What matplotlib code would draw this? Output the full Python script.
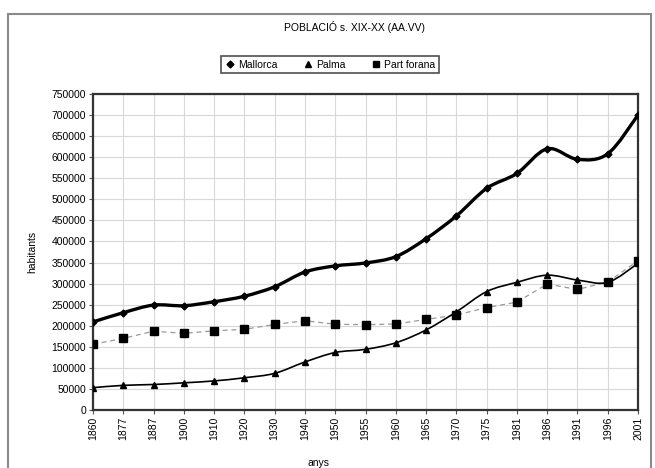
import numpy as np
import matplotlib.pyplot as plt
from matplotlib.path import Path
from matplotlib.patches import PathPatch, Rectangle

years = ['1860', '1877', '1887', '1900', '1910', '1920', '1930', '1940', '1950',
         '1955', '1960', '1965', '1970', '1975', '1981', '1986', '1991', '1996', '2001']
mallorca = [209000, 231000, 249000, 247500, 257000, 270000, 292500, 327500, 342000,
            349000, 364000, 406500, 460500, 526000, 561500, 620000, 595000, 608000, 700000]
palma = [53000, 58500, 60500, 64500, 69000, 76500, 87000, 114000, 136500,
         144000, 159500, 190000, 233000, 281000, 303000, 320000, 308500, 303000, 348000]
forana = [156000, 170000, 187000, 182000, 188000, 191500, 203000, 212000, 203500,
          202500, 204000, 215000, 225500, 243000, 256000, 299000, 286000, 304000, 354000]

plt.rcParams['font.family'] = ['Liberation Sans', 'DejaVu Sans']


def smooth_path(x, y):
    # Catmull-Rom through the points, written as cubic Bezier segments
    pts = np.column_stack([x, y]).astype(float)
    n = len(pts)
    verts = [pts[0]]
    codes = [Path.MOVETO]
    for i in range(n - 1):
        p0 = pts[max(i - 1, 0)]
        p1 = pts[i]
        p2 = pts[i + 1]
        p3 = pts[min(i + 2, n - 1)]
        c1 = p1 + (p2 - p0) / 6.0
        c2 = p2 - (p3 - p1) / 6.0
        verts += [c1, c2, p2]
        codes += [Path.CURVE4] * 3
    return Path(verts, codes)


fig = plt.figure(figsize=(6.55, 4.68), dpi=100)
fig.patches.append(Rectangle((8 / 655, -0.02), 643 / 655, 1.02 - 14 / 468,
                             transform=fig.transFigure, fill=False,
                             edgecolor='#8a8a8a', linewidth=1.5))

ax = fig.add_axes([93 / 655, 1 - 410 / 468, 545 / 655, 316 / 468])
x = np.arange(len(years))

ax.add_patch(PathPatch(smooth_path(x, mallorca), fill=False, edgecolor='black',
                       linewidth=2.4, zorder=3))
ax.add_patch(PathPatch(smooth_path(x, palma), fill=False, edgecolor='black',
                       linewidth=1.2, zorder=3))
ax.plot(x, forana, color='#9a9a9a', linewidth=0.9, linestyle=(0, (4, 3)), zorder=2)

ax.plot(x, mallorca, linestyle='none', marker='D', markersize=3.5, color='black', zorder=4)
ax.plot(x, palma, linestyle='none', marker='^', markersize=5, color='black', zorder=4)
ax.plot(x, forana, linestyle='none', marker='s', markersize=5.5, color='black', zorder=4)

ax.set_xlim(0, len(years) - 1)
ax.set_ylim(0, 750000)
ax.set_xticks(x)
ax.set_xticklabels(years, rotation=90, fontsize=7.5)
ax.set_yticks(np.arange(0, 750001, 50000))
ax.set_yticklabels([str(v) for v in range(0, 750001, 50000)], fontsize=7.5)
ax.tick_params(length=3, width=0.8, color='#555555', pad=2)
ax.grid(True, color='#d8d8d8', linewidth=0.8)
ax.set_axisbelow(True)
for s in ax.spines.values():
    s.set_color('#333333')
    s.set_linewidth(1.6)

ax.set_ylabel('habitants', fontsize=7.5)
ax.yaxis.set_label_coords(-0.103, 0.5)
fig.text(318 / 655, 1 - 463 / 468, 'anys', ha='center', va='center', fontsize=7.5)
fig.text(355 / 655, 1 - 27 / 468, 'POBLACIÓ s. XIX-XX (AA.VV)', ha='center',
         va='center', fontsize=7.5)

h1, = ax.plot([], [], linestyle='none', marker='D', markersize=3.5, color='black')
h2, = ax.plot([], [], linestyle='none', marker='^', markersize=5, color='black')
h3, = ax.plot([], [], linestyle='none', marker='s', markersize=5, color='black')
leg = fig.legend([h1, h2, h3], ['Mallorca', 'Palma', 'Part forana'], ncol=3,
                 loc='center', bbox_to_anchor=(330 / 655, 1 - 64.5 / 468),
                 fontsize=7.5, frameon=True, fancybox=False, handlelength=1.0,
                 handletextpad=0.3, columnspacing=2.4, borderpad=0.35)
leg.get_frame().set_edgecolor('#222222')
leg.get_frame().set_linewidth(1.2)

fig.savefig('out.png', dpi=100)
